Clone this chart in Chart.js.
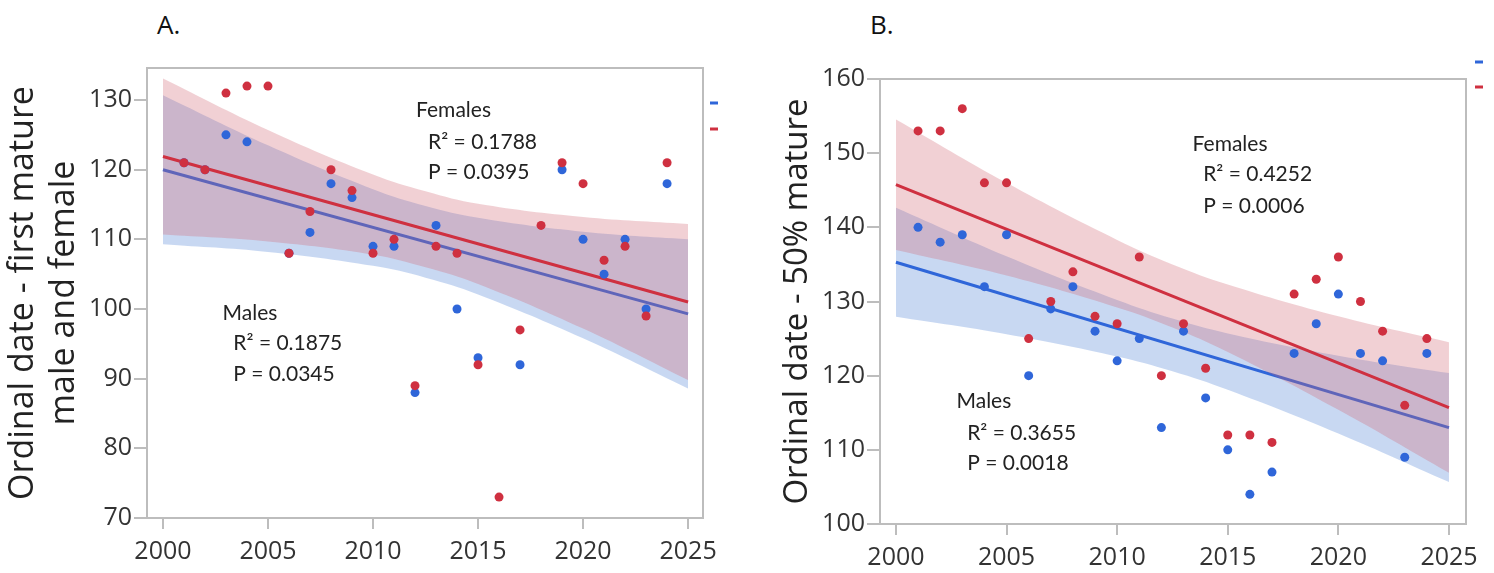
<!DOCTYPE html>
<html>
<head>
<meta charset="utf-8">
<script src="https://cdn.jsdelivr.net/npm/chart.js@4.4.1/dist/chart.umd.min.js"></script>
<style>
  body { margin: 0; background: #fff; width: 1494px; height: 573px; overflow: hidden; position: relative; font-family: 'Open Sans', sans-serif; }
  #caixaA { position: absolute; left: 0; top: 0; width: 745px; height: 573px; }
  #caixaB { position: absolute; left: 745px; top: 0; width: 749px; height: 573px; }
  .painel { position: absolute; top: 6px; font-size: 26px; color: #111; }
</style>
</head>
<body>
<div class="painel" style="left:157px">A.</div>
<div class="painel" style="left:870px">B.</div>
<div id="caixaA"><canvas id="graficoA"></canvas></div>
<div id="caixaB"><canvas id="graficoB"></canvas></div>

<script>
// anos de observacao
const anos = [2001, 2002, 2003, 2004, 2005, 2006, 2007, 2008, 2009, 2010, 2011, 2012,
              2013, 2014, 2015, 2016, 2017, 2018, 2019, 2020, 2021, 2022, 2023, 2024]

// A. primeira maturacao
const machosA = [121, 120, 125, 124, null, 108, 111, 118, 116, 109, 109, 88,
                 112, 100, 93, null, 92, null, 120, 110, 105, 110, 100, 118]
const femeasA = [121, 120, 131, 132, 132, 108, 114, 120, 117, 108, 110, 89,
                 109, 108, 92, 73, 97, 112, 121, 118, 107, 109, 99, 121]

// B. 50% maturos
const machosB = [140, 138, 139, 132, 139, 120, 129, 132, 126, 122, 125, 113,
                 126, 117, 110, 104, 107, 123, 127, 131, 123, 122, 109, 123]
const femeasB = [153, 153, 156, 146, 146, 125, 130, 134, 128, 127, 136, 120,
                 127, 121, 112, 112, 111, 131, 133, 136, 130, 126, 116, 125]

// retas ajustadas
const anosAjuste = [2000, 2025]
const retaMachosA = [120.0, 99.3]
const retaFemeasA = [121.9, 101.0]
const retaMachosB = [135.3, 113.0]
const retaFemeasB = [145.75, 115.7]

// intervalos de confianca
const anosBanda = [2000, 2005, 2010, 2012.5, 2015, 2020, 2025]
const bandaMachosA_sup = [130.7, 123.5, 117.2, 114.8, 113.1, 111.1, 110.0]
const bandaMachosA_inf = [109.3, 108.2, 106.2, 104.5, 102.1, 95.8, 88.6]
const bandaFemeasA_sup = [133.1, 125.7, 119.3, 116.9, 115.1, 113.2, 112.2]
const bandaFemeasA_inf = [110.7, 109.7, 107.8, 106.0, 103.6, 97.2, 89.8]
const bandaMachosB_sup = [142.65, 136.1, 130.2, 127.7, 125.7, 122.7, 120.35]
const bandaMachosB_inf = [127.95, 125.6, 122.6, 120.6, 118.1, 112.2, 105.65]
const bandaFemeasB_sup = [154.55, 146.0, 138.3, 135.0, 132.3, 128.0, 124.5]
const bandaFemeasB_inf = [136.95, 133.5, 129.2, 126.5, 123.2, 115.4, 106.9]

const textosA = [
  { x: 2012.05, y: 128.6, t: 'Females' },
  { x: 2012.62, y: 124.0, t: 'R\u00b2 = 0.1788' },
  { x: 2012.62, y: 119.7, t: 'P = 0.0395' },
  { x: 2002.84, y: 99.44, t: 'Males' },
  { x: 2003.35, y: 95.14, t: 'R\u00b2 = 0.1875' },
  { x: 2003.35, y: 90.69, t: 'P = 0.0345' }
]
const textosB = [
  { x: 2013.41, y: 151.14, t: 'Females' },
  { x: 2013.89, y: 147.1, t: 'R\u00b2 = 0.4252' },
  { x: 2013.89, y: 142.82, t: 'P = 0.0006' },
  { x: 2002.74, y: 116.53, t: 'Males' },
  { x: 2003.22, y: 112.27, t: 'R\u00b2 = 0.3655' },
  { x: 2003.22, y: 108.23, t: 'P = 0.0018' }
]

const corAzul = '#2f66d9'
const corVermelho = '#cf3040'
const bandaAzul = 'rgba(72, 125, 212, 0.30)'
const bandaVermelha = 'rgba(208, 98, 112, 0.30)'
const corMoldura = '#bdbdbd'

function pares(xs, ys) {
  const saida = []
  xs.forEach((x, i) => {
    if (ys[i] !== null) saida.push({ x: x, y: ys[i] })
  })
  return saida
}

const molduraPlugin = {
  id: 'moldura',
  beforeDatasetsDraw(chart) {
    const { ctx, chartArea } = chart
    ctx.save()
    ctx.strokeStyle = corMoldura
    ctx.lineWidth = 2
    ctx.beginPath()
    ctx.moveTo(chartArea.left, chartArea.top)
    ctx.lineTo(chartArea.right, chartArea.top)
    ctx.lineTo(chartArea.right, chartArea.bottom)
    ctx.stroke()
    ctx.restore()
  },
  afterDatasetsDraw(chart, args, opcoes) {
    const { ctx, chartArea } = chart
    const x = chart.scales.x
    const y = chart.scales.y
    ctx.save()
    ctx.fillStyle = '#222'
    ctx.font = '21px Lato'
    ctx.textBaseline = 'middle'
    ctx.textAlign = 'left'
    opcoes.textos.forEach(txt => {
      ctx.fillText(txt.t, x.getPixelForValue(txt.x), y.getPixelForValue(txt.y))
    })
    // marcadores de legenda
    const leg = opcoes.legenda
    ctx.lineWidth = 3
    ctx.strokeStyle = corAzul
    ctx.beginPath()
    ctx.moveTo(chartArea.right + leg.dx, chartArea.top + leg.dyAzul)
    ctx.lineTo(chartArea.right + leg.dx + 8, chartArea.top + leg.dyAzul)
    ctx.stroke()
    ctx.strokeStyle = corVermelho
    ctx.beginPath()
    ctx.moveTo(chartArea.right + leg.dx, chartArea.top + leg.dyVermelho)
    ctx.lineTo(chartArea.right + leg.dx + 8, chartArea.top + leg.dyVermelho)
    ctx.stroke()
    ctx.restore()
  }
}

function montaGrafico(id, c) {
  const linhaBanda = (dados, ordem, preenche, cor) => ({
    type: 'line',
    data: pares(anosBanda, dados),
    borderWidth: 0,
    pointRadius: 0,
    tension: 0.4,
    fill: preenche,
    backgroundColor: cor,
    order: ordem
  })
  const reta = (dados, cor, ordem) => ({
    type: 'line',
    data: pares(anosAjuste, dados),
    borderColor: cor,
    borderWidth: 3,
    pointRadius: 0,
    fill: false,
    order: ordem
  })
  const pontos = (dados, cor, ordem) => ({
    type: 'scatter',
    data: pares(anos, dados),
    backgroundColor: cor,
    borderWidth: 0,
    pointRadius: 4.5,
    order: ordem
  })

  return new Chart(document.getElementById(id), {
    type: 'scatter',
    data: {
      datasets: [
        linhaBanda(c.machosInf, 5, false, bandaAzul),
        linhaBanda(c.machosSup, 5, '-1', bandaAzul),
        reta(c.retaMachos, corAzul, 4),
        linhaBanda(c.femeasInf, 3, false, bandaVermelha),
        linhaBanda(c.femeasSup, 3, '-1', bandaVermelha),
        reta(c.retaFemeas, corVermelho, 2),
        pontos(c.machos, corAzul, 1),
        pontos(c.femeas, corVermelho, 0)
      ]
    },
    options: {
      responsive: true,
      maintainAspectRatio: false,
      animation: false,
      layout: { padding: c.padding },
      plugins: {
        legend: { display: false },
        tooltip: { enabled: false },
        moldura: { textos: c.textos, legenda: c.legenda }
      },
      scales: {
        x: {
          type: 'linear',
          min: c.xMin,
          max: c.xMax,
          afterFit: (escala) => { escala.height = c.alturaX },
          grid: { drawOnChartArea: false, drawTicks: true, tickLength: 11, color: corMoldura, lineWidth: 2 },
          border: { display: true, color: corMoldura, width: 2 },
          ticks: {
            stepSize: 5,
            includeBounds: false,
            maxRotation: 0,
            padding: 8,
            color: '#333',
            font: { family: 'Open Sans', size: 25 },
            callback: (v) => String(v)
          }
        },
        y: {
          min: c.yMin,
          max: c.yMax,
          afterFit: (escala) => { escala.width = c.larguraY },
          grid: { drawOnChartArea: false, drawTicks: true, tickLength: 13, color: corMoldura, lineWidth: 2 },
          border: { display: true, color: corMoldura, width: 2 },
          ticks: {
            stepSize: 10,
            includeBounds: false,
            padding: 2,
            color: '#333',
            font: { family: 'Open Sans', size: 25 }
          },
          title: {
            display: true,
            text: c.tituloY,
            color: '#222',
            font: { family: 'Open Sans', size: c.tituloTam, lineHeight: 1.2 },
            padding: { top: c.tituloPad, bottom: 0 }
          }
        }
      }
    },
    plugins: [molduraPlugin]
  })
}

montaGrafico('graficoA', {
  machos: machosA, femeas: femeasA,
  retaMachos: retaMachosA, retaFemeas: retaFemeasA,
  machosSup: bandaMachosA_sup, machosInf: bandaMachosA_inf,
  femeasSup: bandaFemeasA_sup, femeasInf: bandaFemeasA_inf,
  xMin: 1999.24, xMax: 2025.71, yMin: 70, yMax: 134.6,
  padding: { left: 0, top: 68, right: 42, bottom: 0 },
  larguraY: 147, alturaX: 55,
  tituloY: ['Ordinal date - first mature', 'male and female'], tituloPad: 3, tituloTam: 34,
  textos: textosA,
  legenda: { dx: 7, dyAzul: 35, dyVermelho: 61 }
})

montaGrafico('graficoB', {
  machos: machosB, femeas: femeasB,
  retaMachos: retaMachosB, retaFemeas: retaFemeasB,
  machosSup: bandaMachosB_sup, machosInf: bandaMachosB_inf,
  femeasSup: bandaFemeasB_sup, femeasInf: bandaFemeasB_inf,
  xMin: 1999.28, xMax: 2025.77, yMin: 100, yMax: 160,
  padding: { left: 0, top: 79, right: 28, bottom: 0 },
  larguraY: 135, alturaX: 49,
  tituloY: 'Ordinal date - 50% mature', tituloPad: 33, tituloTam: 33,
  textos: textosB,
  legenda: { dx: 9, dyAzul: -17, dyVermelho: 8 }
})
</script>
</body>
</html>
